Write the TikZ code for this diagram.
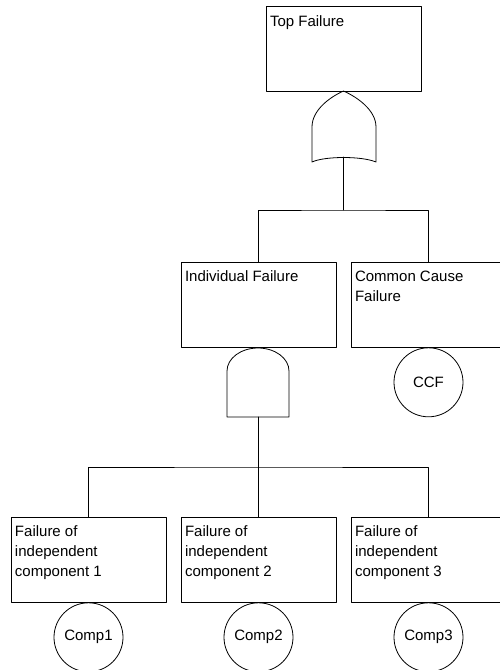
\documentclass[tikz,border=0pt]{standalone}
\usepackage{fontspec}
\setmainfont{Liberation Sans}

\begin{document}
\begin{tikzpicture}[line cap=round,line join=round,x=1pt,y=-1pt,line width=0.8pt,
  evt/.style={draw,rectangle,minimum width=155pt,minimum height=85pt,inner sep=0pt},
  txt/.style={anchor=north west,align=left,inner xsep=4pt,inner ysep=9pt,font=\fontsize{15}{20}\selectfont},
  basic/.style={draw,circle,minimum size=69pt,inner sep=0pt,anchor=north,font=\fontsize{15}{18}\selectfont}]
\useasboundingbox (0,0) rectangle (499,670);
% events
\node[evt] (top) at (343.5,49) {};
\node[evt] (indiv) at (258.5,304.5) {};
\node[evt] (ccf) at (428.5,304.5) {};
\node[evt] (ev1) at (88.5,559.5) {};
\node[evt] (ev2) at (258.5,559.5) {};
\node[evt] (ev3) at (428.5,559.5) {};
\node[txt] at (top.north west) {Top Failure};
\node[txt] at (indiv.north west) {Individual Failure};
\node[txt] at (ccf.north west) {Common Cause\\Failure};
\node[txt] at (ev1.north west) {Failure of\\independent\\component 1};
\node[txt] at (ev2.north west) {Failure of\\independent\\component 2};
\node[txt] at (ev3.north west) {Failure of\\independent\\component 3};
% basic events
\node[basic] (ccfb) at (ccf.south) {CCF};
\node[basic] (comp1) at (ev1.south) {Comp1};
\node[basic] (comp2) at (ev2.south) {Comp2};
\node[basic] (comp3) at (ev3.south) {Comp3};
% or gate
\draw (312,127) .. controls (312,110) and (330,97) .. (343.5,91)
  .. controls (357,97) and (376,110) .. (376,127) -- (376,162)
  .. controls (362,156) and (325,156) .. (312,162) -- cycle;
% and gate
\draw (227,417) -- (227,371) arc[start angle=180,end angle=360,x radius=31,y radius=23]
  -- (289,417) -- cycle;
\coordinate (orout) at (343.5,157);
\coordinate (andout) at (258.5,417);
\coordinate (bar1) at (343.5,210);
\coordinate (bar2) at (258.5,467);
\draw (orout) -- (bar1);
\draw (indiv.north) |- (bar1) -| (ccf.north);
\draw (andout) -- (bar2);
\draw (ev1.north) |- (bar2) -| (ev3.north);
\draw (ev2.north) -- (bar2);
\end{tikzpicture}
\end{document}
